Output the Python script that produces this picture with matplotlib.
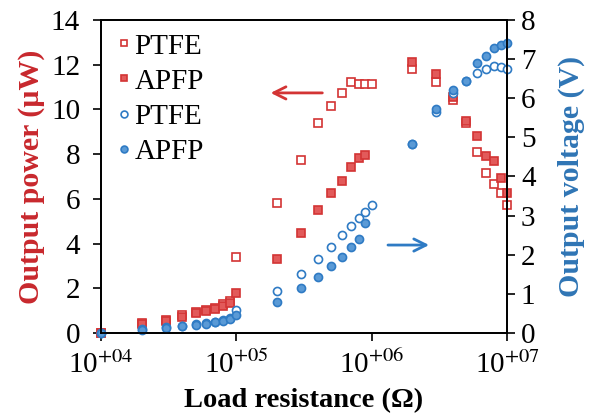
import matplotlib.pyplot as plt
import numpy as np

plt.rcParams['font.family'] = ['Liberation Serif', 'DejaVu Serif']
plt.rcParams['mathtext.fontset'] = 'stix'

# load resistance (ohm)
resistance = [1e4, 2e4, 3e4, 4e4, 5e4, 6e4, 7e4, 8e4, 9e4, 1e5,
              2e5, 3e5, 4e5, 5e5, 6e5, 7e5, 8e5, 9e5, 1e6,
              2e6, 3e6, 4e6, 5e6, 6e6, 7e6, 8e6, 9e6, 1e7]

# output power (uW)
power_ptfe = [0, 0.45, 0.6, 0.8, 0.95, 1.02, 1.12, 1.28, 1.42, 3.39,
              5.83, 7.74, 9.38, 10.15, 10.75, 11.24, 11.14, 11.14, 11.14,
              11.8, 11.24, 10.42, 9.4, 8.11, 7.14, 6.66, 6.25, 5.72]
power_apfp = [0, 0.4, 0.55, 0.72, 0.88, 0.98, 1.08, 1.22, 1.36, 1.8,
              3.31, 4.49, 5.5, 6.28, 6.81, 7.42, 7.81, 7.96, np.nan,
              12.13, 11.6, 10.57, 9.48, 8.81, 7.92, 7.71, 6.92, 6.28]

# output voltage (V)
volt_ptfe = [0, 0.1, 0.16, 0.19, 0.23, 0.26, 0.29, 0.33, 0.38, 0.59,
             1.07, 1.51, 1.88, 2.21, 2.5, 2.74, 2.95, 3.10, 3.27,
             4.83, 5.66, 6.13, 6.43, 6.64, 6.74, 6.83, 6.81, 6.74]
volt_apfp = [0, 0.08, 0.13, 0.17, 0.21, 0.24, 0.27, 0.3, 0.35, 0.45,
             0.8, 1.14, 1.44, 1.7, 1.94, 2.19, 2.40, 2.81, np.nan,
             4.83, 5.72, 6.21, 6.43, 6.9, 7.07, 7.28, 7.37, 7.41]

red = '#d33434'
red_fill = '#e25a5a'
blue = '#2f7bc4'
blue_fill = '#5a9ad6'
ms = 5.8
mew = 1.2

fig = plt.figure(figsize=(5.99, 4.16), dpi=100)
ax1 = fig.add_axes([0.1686, 0.1995, 0.6778, 0.7525])
ax2 = ax1.twinx()

h1, = ax1.plot(resistance, power_ptfe, 's', ms=ms, mfc='white', mec=red, mew=mew, label='PTFE', clip_on=False)
h2, = ax1.plot(resistance, power_apfp, 's', ms=ms, mfc=red_fill, mec=red, mew=mew, label='APFP', clip_on=False)
h3, = ax2.plot(resistance, volt_ptfe, 'o', ms=ms, mfc='white', mec=blue, mew=mew, label='PTFE', clip_on=False)
h4, = ax2.plot(resistance, volt_apfp, 'o', ms=ms, mfc=blue_fill, mec=blue, mew=mew, label='APFP', clip_on=False)

ax1.set_xscale('log')
ax1.set_xlim(1e4, 1e7)
ax1.set_ylim(0, 14)
ax2.set_ylim(0, 8)
ax1.set_xticks([1e4, 1e5, 1e6, 1e7])
ax1.set_xticklabels(['10$^{+04}$', '10$^{+05}$', '10$^{+06}$', '10$^{+07}$'])
ax1.minorticks_off()
ax1.set_yticks(range(0, 15, 2))
ax2.set_yticks(range(0, 9))

for ax in (ax1, ax2):
    ax.tick_params(direction='out', length=6, width=1.2, labelsize=21, pad=4)
    for s in ax.spines.values():
        s.set_linewidth(1.3)
ax1.tick_params(axis='y', pad=9)
ax1.tick_params(axis='x', pad=7)

ax1.set_xlabel('Load resistance (Ω)', fontsize=20.5, fontweight='bold', labelpad=6)
ax1.set_ylabel('Output power (µW)', fontsize=21.5, fontweight='bold', color='#c8282d', labelpad=4)
ax2.set_ylabel('Output voltage (V)', fontsize=21.5, fontweight='bold', color='#2f75b5', labelpad=16)

ax2.legend(handles=[h1, h2, h3, h4], loc='upper left', frameon=False, fontsize=21,
           handletextpad=0.0, markerscale=0.85, labelspacing=0.3,
           borderaxespad=0.25, borderpad=0.2, handlelength=0.7)

ax1.annotate('', xy=(0.411, 0.767), xytext=(0.552, 0.767), xycoords='axes fraction',
             arrowprops=dict(arrowstyle='->', color=red, lw=2, mutation_scale=22))
ax1.annotate('', xy=(0.815, 0.281), xytext=(0.700, 0.281), xycoords='axes fraction',
             arrowprops=dict(arrowstyle='->', color=blue, lw=2, mutation_scale=22))

fig.savefig('out.png', dpi=100)
